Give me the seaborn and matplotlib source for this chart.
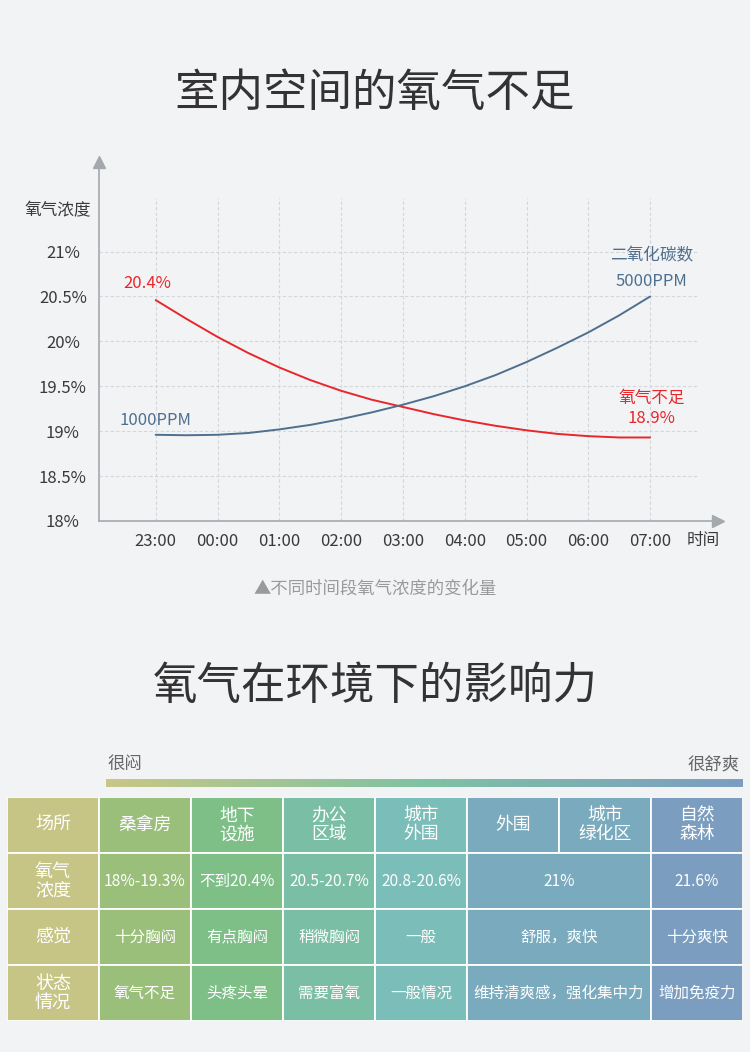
import numpy as np
import pandas as pd
import matplotlib
matplotlib.use("Agg")
import matplotlib.pyplot as plt
import matplotlib.transforms as mtrans
from matplotlib.patches import Rectangle, FancyBboxPatch
from matplotlib.colors import LinearSegmentedColormap
import seaborn as sns

# ---- data ----
hours = ["23:00", "00:00", "01:00", "02:00", "03:00", "04:00", "05:00", "06:00", "07:00"]
# readings every half hour, 23:00 .. 07:00
times = ["23:00", "23:30", "00:00", "00:30", "01:00", "01:30", "02:00", "02:30", "03:00",
         "03:30", "04:00", "04:30", "05:00", "05:30", "06:00", "06:30", "07:00"]
oxygen = [20.46, 20.25, 20.05, 19.87, 19.71, 19.57, 19.45, 19.35, 19.27,
          19.19, 19.12, 19.06, 19.01, 18.97, 18.945, 18.93, 18.93]
co2 = [18.96, 18.955, 18.96, 18.98, 19.02, 19.07, 19.135, 19.21, 19.295,
       19.39, 19.50, 19.625, 19.77, 19.93, 20.10, 20.29, 20.50]
y_ticks = [18, 18.5, 19, 19.5, 20, 20.5, 21]
y_labels = ["18%", "18.5%", "19%", "19.5%", "20%", "20.5%", "21%"]

row_labels = ["场所", "氧气\n浓度", "感觉", "状态\n情况"]
places = ["桑拿房", "地下\n设施", "办公\n区域", "城市\n外围", "外围", "城市\n绿化区", "自然\n森林"]
o2_levels = ["18%-19.3%", "不到20.4%", "20.5-20.7%", "20.8-20.6%", "21%", None, "21.6%"]
feelings = ["十分胸闷", "有点胸闷", "稍微胸闷", "一般", "舒服，爽快", None, "十分爽快"]
states = ["氧气不足", "头疼头晕", "需要富氧", "一般情况", "维持清爽感，强化集中力", None, "增加免疫力"]
col_colors = ["#c7c586", "#9abf7b", "#7ebf88", "#7bbea6", "#7bbdb8", "#7aaabd", "#7aaabd", "#7b9dbf"]

BG = "#f2f3f5"
RED = "#e8262b"
BLUE = "#4f6f8f"

sns.set_theme(style="white")
plt.rcParams['font.family'] = ['Noto Sans CJK SC', 'DejaVu Sans']

W, H = 750, 1052
fig = plt.figure(figsize=(7.5, 10.52), dpi=100, facecolor=BG)


def px_axes(x0, y0, x1, y1):
    return fig.add_axes([x0 / W, 1 - y1 / H, (x1 - x0) / W, (y1 - y0) / H])


def ftext(x, y, s, **kw):
    fig.text(x / W, 1 - y / H, s, **kw)


# ---- titles ----
ftext(375, 93, "室内空间的氧气不足", ha="center", va="center", fontsize=32, color="#333333")
ftext(375, 686, "氧气在环境下的影响力", ha="center", va="center", fontsize=32, color="#333333")

# ---- line chart ----
ax = px_axes(99, 162, 718, 521)
ax.set_facecolor(BG)
x0px, hpx, ypx = 155.7, 61.8, 89.8
ax.set_xlim((99 - x0px) / hpx, (718 - x0px) / hpx)
ax.set_ylim(18, 18 + (521 - 162) / ypx)

xs = np.arange(len(hours))
for yv in y_ticks[1:]:
    ax.plot([ax.get_xlim()[0], (697 - x0px) / hpx], [yv, yv], ls=(0, (3, 2)), color="#d3d6da", lw=0.8, zorder=1)
for xv in xs:
    ax.plot([xv, xv], [18, 18 + (521 - 198) / ypx], ls=(0, (3, 2)), color="#d3d6da", lw=0.8, zorder=1)

tpos = np.arange(len(times)) / 2
df = pd.DataFrame({
    "pos": np.concatenate([tpos, tpos]),
    "value": oxygen + co2,
    "series": ["oxygen"] * len(times) + ["co2"] * len(times),
})
sns.lineplot(data=df, x="pos", y="value", hue="series", palette={"oxygen": RED, "co2": BLUE},
             ax=ax, legend=False, linewidth=1.4, sort=False, zorder=3)

for s in ["top", "right"]:
    ax.spines[s].set_visible(False)
for s in ["left", "bottom"]:
    ax.spines[s].set_color("#a5a8ad")
    ax.spines[s].set_linewidth(1.2)
ax.plot(1, 0, ">", transform=ax.transAxes, color="#a5a8ad", ms=8, clip_on=False, zorder=4)
ax.plot(0, 1, "^", transform=ax.transAxes, color="#a5a8ad", ms=8, clip_on=False, zorder=4)

ax.set_xticks(xs)
ax.set_xticklabels(hours, fontsize=12, color="#3a3a3a")
shift = mtrans.ScaledTranslation(-3 / 100, 0, fig.dpi_scale_trans)
for lab in ax.get_xticklabels():
    lab.set_transform(lab.get_transform() + shift)
ax.set_yticks(y_ticks)
ax.set_yticklabels(y_labels, fontsize=12, color="#3a3a3a", ha="center")
ax.tick_params(axis="y", length=0, pad=26)
ax.tick_params(axis="x", length=0, pad=9)
ax.set_xlabel("")
ax.set_ylabel("")

ftext(58, 211, "氧气浓度", ha="center", va="center", fontsize=12, color="#3a3a3a")
ftext(703, 541, "时间", ha="center", va="center", fontsize=12, color="#3a3a3a")

ax.annotate("20.4%", xy=(xs[0], oxygen[0]), xytext=(-6, 12), textcoords="offset points",
            ha="center", va="center", fontsize=12, color=RED)
ax.annotate("1000PPM", xy=(xs[0], co2[0]), xytext=(-0.5, 10.5), textcoords="offset points",
            ha="center", va="center", fontsize=12, color=BLUE)
ax.annotate("二氧化碳数", xy=(xs[-1], co2[-1]), xytext=(1.2, 29), textcoords="offset points",
            ha="center", va="center", fontsize=12, color=BLUE)
ax.annotate("5000PPM", xy=(xs[-1], co2[-1]), xytext=(1.2, 11), textcoords="offset points",
            ha="center", va="center", fontsize=12, color=BLUE)
ax.annotate("氧气不足", xy=(xs[-1], oxygen[-1]), xytext=(1.2, 28), textcoords="offset points",
            ha="center", va="center", fontsize=12, color=RED)
ax.annotate("18.9%", xy=(xs[-1], oxygen[-1]), xytext=(1.2, 13.5), textcoords="offset points",
            ha="center", va="center", fontsize=12, color=RED)

ftext(375, 589, "▲不同时间段氧气浓度的变化量", ha="center", va="center", fontsize=12.5, color="#9a9a9a")

# ---- gradient bar ----
ftext(108, 764, "很闷", ha="left", va="center", fontsize=12.5, color="#666666")
ftext(740, 764, "很舒爽", ha="right", va="center", fontsize=12.5, color="#666666")
gax = px_axes(106, 779, 743, 787)
gax.axis("off")
cmap = LinearSegmentedColormap.from_list("grad", ["#c8c785", "#7fc2a3", "#7b9dc2"])
im = gax.imshow(np.linspace(0, 1, 256)[None, :], aspect="auto", cmap=cmap, extent=[0, 1, 0, 1])
clip = FancyBboxPatch((0, 0), 1, 1, boxstyle="round,pad=0,rounding_size=0.5",
                      mutation_aspect=1 / 80, transform=gax.transData, facecolor="none", edgecolor="none")
gax.add_patch(clip)
im.set_clip_path(clip)
gax.set_xlim(0, 1)
gax.set_ylim(0, 1)

# ---- table ----
tax = px_axes(7, 797, 743, 1021)
tax.set_xlim(0, 8)
tax.set_ylim(4, 0)
tax.axis("off")

rows = [places, o2_levels, feelings, states]
for r, label in enumerate(row_labels):
    tax.add_patch(Rectangle((0, r), 1, 1, facecolor=col_colors[0], edgecolor="white", lw=1.3))
    tax.text(0.5, r + 0.5, label, ha="center", va="center", fontsize=13, color="white", linespacing=1.05)
    vals = rows[r]
    c = 0
    while c < len(vals):
        span = 1
        while c + span < len(vals) and vals[c + span] is None:
            span += 1
        x0 = c + 1
        tax.add_patch(Rectangle((x0, r), span, 1, facecolor=col_colors[x0], edgecolor="white", lw=1.3))
        fs = 12.8 if r == 0 else 11.2
        tax.text(x0 + span / 2, r + 0.5, vals[c], ha="center", va="center", fontsize=fs,
                 color="white", linespacing=1.05)
        c += span

fig.savefig("out.png", dpi=100, facecolor=BG)
